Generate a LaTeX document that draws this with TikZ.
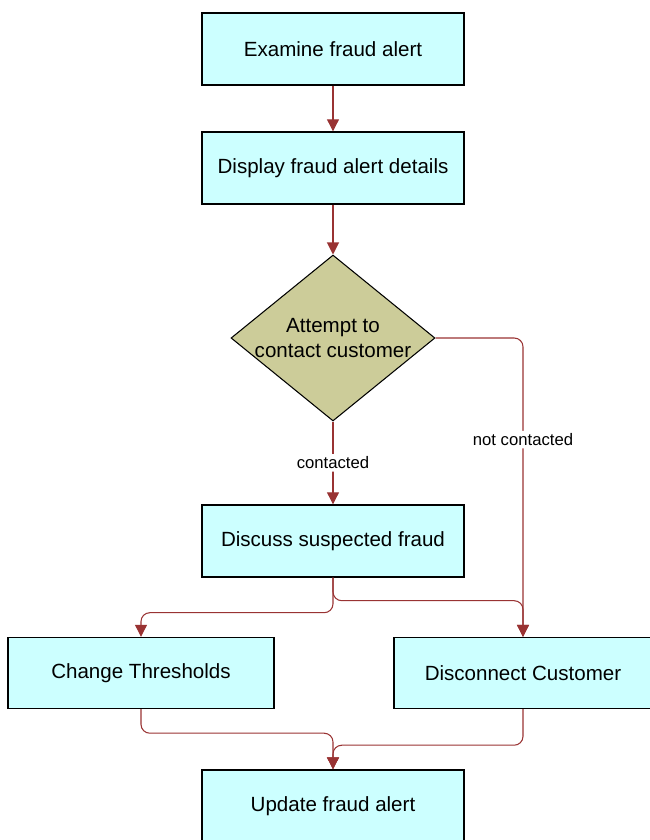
\documentclass[tikz,border=0pt]{standalone}
\usepackage{fontspec}
\setmainfont{Liberation Sans}
\usetikzlibrary{shapes.geometric,arrows.meta}
\definecolor{taskfill}{RGB}{204,255,255}
\definecolor{choicefill}{RGB}{204,204,153}
\definecolor{flowred}{RGB}{153,51,51}
\tikzset{
    task/.style={rectangle,draw,line width=0.8pt,fill=taskfill,minimum width=5.24cm,minimum height=1.44cm,font=\fontsize{11.7}{14}\selectfont},
    choice/.style={diamond,draw,line width=0.6pt,fill=choicefill,aspect=1.229,inner xsep=-0.05cm,inner ysep=0pt,minimum width=4.08cm,minimum height=3.32cm,align=center,font=\fontsize{11.7}{14.7}\selectfont},
    flow/.style={-{Triangle[length=0.24cm,width=0.24cm]},color=flowred,line width=0.6pt,rounded corners=5pt},
    lbl/.style={fill=white,text=black,inner sep=1.5pt,font=\fontsize{9.5}{11}\selectfont}
}
\begin{document}
\begin{tikzpicture}[x=0.02cm,y=-0.02cm]
    \useasboundingbox (0,0) rectangle (650,840);
    \node (examine) [task] at (333,49) {Examine fraud alert};
    \node (display) [task] at (333,168) {Display fraud alert details};
    \node (attempt) [choice] at (333,338) {Attempt to\\contact customer};
    \node (discuss) [task] at (333,541) {Discuss suspected fraud};
    \node (change) [task,minimum width=5.32cm,minimum height=1.42cm] at (141,673) {Change Thresholds};
    \node (disconnect) [task,minimum width=5.16cm,minimum height=1.42cm] at (523,673) {Disconnect Customer};
    \node (update) [task] at (333,806) {Update fraud alert};
    \draw [flow] (examine) -- (display);
    \draw [flow] (display) -- (attempt);
    \draw [flow] (attempt) -- node [lbl] {contacted} (discuss);
    \draw [flow] (attempt.east) -| node [lbl,pos=0.67] {not contacted} (disconnect.north);
    \draw [flow] (discuss.south) -- ++(0,35) -| (change.north);
    \draw [flow] (discuss.south) -- ++(0,23) -| (disconnect.north);
    \draw [flow] (change.south) -- ++(0,24) -| (update.north);
    \draw [flow] (disconnect.south) -- ++(0,36) -| (update.north);
\end{tikzpicture}
\end{document}
